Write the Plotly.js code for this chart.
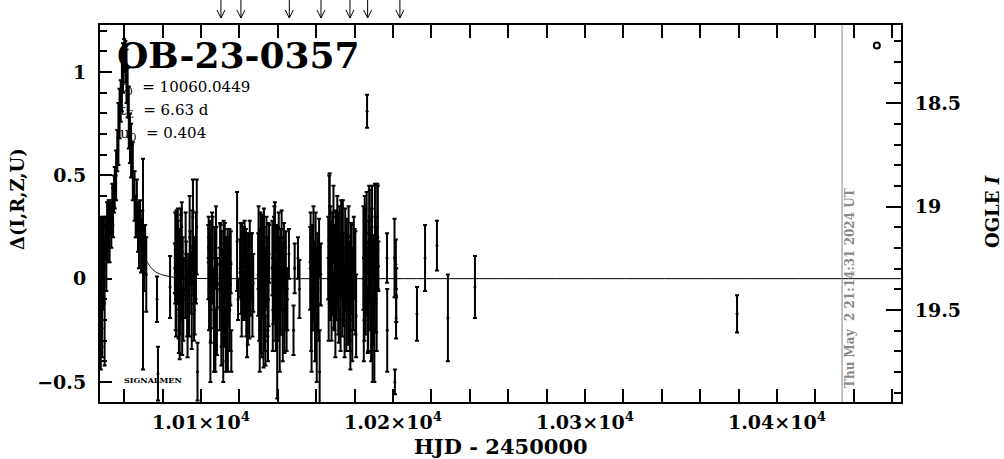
<!DOCTYPE html>
<html><head><meta charset="utf-8">
<script src="https://cdn.plot.ly/plotly-3.0.1.min.js"></script>
<style>html,body{margin:0;padding:0;background:#fff}</style>
</head><body><div id="chart" style="width:1004px;height:459px"></div>
<script>
// Observations: HJD-2450000, Δmag, error
const hjd = [
 10047.6,10047.8,10047.9,10048.2,10048.5,10048.6,10049.0,10049.4,10049.8,10050.3,10050.7,10051.1,10051.5,10051.9,10052.4,10052.8,10053.3,10053.8,10054.2,10054.7,10055.1,
 10055.8,10056.4,10057.0,10057.6,10058.2,10058.8,10059.4,10060.0,10060.6,10061.2,10061.8,10062.4,10063.0,
 10063.6,10064.5,10065.4,10066.0,10066.6,10067.2,10067.7,10068.3,10068.8,10069.4,10069.8,10070.3,10070.9,10071.5,
 10077.1,10077.6,10083.9,
 10086.4,10086.8,10087.2,10087.6,10088.0,10088.3,10088.5,10088.7,10089.0,10089.4,10089.8,10090.2,10090.5,
 10091.8,10092.3,10092.8,10093.3,10093.8,10094.4,10094.9,10095.5,10096.1,10096.7,10097.4,10097.8,10098.2,
 10103.8,10104.2,10104.7,10105.1,10105.6,10106.0,10106.5,10107.0,10107.5,10108.0,10108.5,
 10109.8,10110.2,10110.6,10111.0,10111.4,10111.8,10112.2,10112.6,10113.0,10113.4,10113.8,10114.3,10114.8,10115.3,10115.8,
 10118.8,10119.3,
 10120.4,10120.9,10121.4,10121.9,10122.4,10122.9,10123.4,10123.9,10124.0,10124.4,10124.9,10125.4,10125.9,10126.5,10127.2,
 10129.8,10130.3,10130.8,10131.3,10131.8,10132.3,10132.8,10133.3,10133.8,10134.3,10134.9,10135.5,
 10137.2,10137.7,10138.2,10138.7,10139.2,10139.7,10140.2,10140.7,10141.2,10141.7,10142.3,10142.9,10143.5,10144.2,10145.0,10145.8,
 10148.2,10148.8,10150.5,10151.3,
 10156.9,10157.4,10157.9,10158.4,10158.9,10159.4,10160.0,10160.6,10161.2,10161.8,10162.4,
 10166.3,10166.8,10167.3,10167.8,10168.3,10168.8,10169.3,10169.8,10170.3,10170.8,10171.3,10171.8,10172.4,10173.0,10173.6,10174.2,10174.8,10175.4,10176.0,10176.6,10177.2,10177.8,10178.5,10179.2,10180.0,10180.8,
 10184.6,10185.1,10185.6,10186.1,10186.5,10186.9,10187.4,10187.9,10188.4,10188.9,10189.4,10190.0,10190.6,10191.2,10191.8,10192.4,
 10196.9,10197.0,10200.8,10201.0,10201.5,10201.6,10201.7,
 10212.5,10216.7,10222.9,10228.6,10242.7,10379.2,
 10086.6,10087.0,10087.9,10088.9,10089.6,10090.0,10090.8,
 10092.0,10093.0,10094.1,10095.2,10095.8,10096.4,10097.1,
 10104.0,10104.9,10105.8,10106.8,10107.8,10108.3,
 10110.0,10110.8,10111.6,10112.4,10113.2,10114.0,10114.6,10115.0,10115.5,
 10120.6,10121.2,10122.1,10122.7,10123.6,10124.7,10125.2,10126.2,10126.8,
 10130.0,10130.6,10131.0,10131.6,10132.1,10132.6,10133.1,10133.6,10134.1,10134.6,10135.2,
 10137.4,10138.0,10138.5,10139.0,10139.5,10140.0,10140.5,10141.0,10141.5,10142.0,10142.6,10143.2,10143.8,10144.6,
 10157.1,10157.6,10158.1,10158.6,10159.1,10159.7,10160.3,10160.9,10161.5,
 10166.5,10167.0,10167.5,10168.0,10168.5,10169.0,10169.5,10170.0,10170.5,10171.0,10171.5,10172.1,10172.7,10173.3,10173.9,10174.5,10175.1,10175.7,10176.3,10176.9,10177.5,10178.1,10178.8,10179.6,10180.4,
 10184.8,10185.3,10185.8,10186.3,10187.1,10187.6,10188.1,10188.6,10189.1,10189.7,10190.3,10190.9,10191.5,10192.1
];
const dmag = [
 0.02,-0.20,0.12,-0.08,-0.24,0.15,0.05,0.18,-0.12,0.20,0.10,0.25,0.17,0.28,0.22,0.30,0.26,0.36,0.32,0.41,0.44,
 0.50,0.62,0.70,0.80,0.86,0.95,1.02,1.08,1.05,0.98,0.90,0.78,0.68,
 0.62,0.52,0.40,0.30,0.34,0.25,0.20,0.28,0.16,0.22,0.07,0.10,0.14,0.02,
 -0.10,-0.46,-0.04,
 0.05,-0.10,0.15,-0.02,0.08,-0.15,-0.18,0.12,-0.05,0.20,0.00,-0.20,0.10,
 -0.05,0.06,-0.12,0.02,-0.08,0.10,-0.02,0.15,0.04,-0.15,0.10,0.25,-0.45,
 0.08,-0.05,0.15,-0.15,0.02,0.20,-0.10,0.05,-0.30,0.10,-0.02,
 -0.05,0.10,-0.20,0.02,-0.12,0.14,-0.08,0.05,-0.25,0.00,0.12,-0.10,0.06,-0.03,-0.35,
 0.18,-0.10,
 0.05,-0.05,0.12,0.00,0.15,-0.08,0.08,0.10,-0.25,-0.12,0.03,0.10,-0.06,0.06,-0.02,
 0.02,-0.12,0.10,-0.20,0.06,-0.05,0.18,-0.15,0.00,0.08,-0.25,0.12,
 0.10,-0.08,0.20,-0.10,0.05,-0.30,0.15,0.00,-0.15,0.10,-0.05,0.08,-0.20,0.05,-0.10,0.12,
 -0.25,0.05,0.10,-0.05,
 0.05,-0.10,0.12,-0.05,0.08,-0.20,0.00,0.10,-0.12,-0.45,0.02,
 0.10,0.25,-0.05,0.15,0.02,0.20,-0.10,0.08,0.18,-0.02,0.12,-0.15,0.05,0.22,-0.08,0.10,-0.20,0.00,0.15,-0.10,0.06,-0.30,0.10,-0.05,0.12,-0.18,
 0.10,-0.10,0.20,0.00,0.81,-0.20,0.08,0.25,-0.05,0.12,-0.30,0.05,0.20,-0.12,0.30,0.06,
 0.10,-0.25,0.10,-0.50,0.07,-0.19,-0.08,
 -0.17,0.10,0.16,-0.19,-0.04,-0.17,
 0.10,-0.08,0.18,-0.25,0.06,0.25,-0.10,
 0.12,-0.20,0.20,-0.12,0.30,-0.05,0.05,
 0.20,-0.30,0.10,-0.20,0.15,-0.15,
 0.12,-0.05,-0.30,0.15,-0.10,-0.20,0.10,-0.15,0.08,
 0.15,-0.10,0.08,0.20,-0.08,0.10,-0.15,0.12,-0.08,
 0.15,-0.25,0.20,-0.08,0.12,-0.25,0.05,-0.30,0.15,-0.08,0.02,
 -0.15,0.05,0.25,-0.20,0.12,-0.10,0.20,-0.25,0.00,0.15,-0.15,0.12,-0.05,-0.20,
 0.20,-0.25,0.00,0.15,-0.10,0.10,-0.25,-0.05,0.15,
 -0.10,0.35,0.10,-0.15,0.10,0.30,-0.05,-0.20,0.05,0.25,-0.05,0.15,-0.20,0.05,0.18,-0.08,0.12,-0.15,0.05,0.20,-0.10,0.05,-0.20,0.10,-0.02,
 -0.20,0.15,-0.05,0.22,-0.10,0.30,0.00,-0.20,0.25,-0.10,-0.25,0.10,-0.05,0.20
];
const dmagErr = [
 0.22,0.24,0.18,0.25,0.14,0.14,0.20,0.12,0.30,0.10,0.16,0.12,0.09,0.10,0.14,0.08,0.11,0.10,0.12,0.09,0.10,
 0.12,0.10,0.15,0.12,0.10,0.14,0.12,0.08,0.10,0.13,0.12,0.15,0.12,
 0.13,0.14,0.12,0.10,0.14,0.12,0.15,0.10,0.13,0.11,0.51,0.16,0.12,0.18,
 0.11,0.13,0.15,
 0.12,0.15,0.18,0.10,0.20,0.14,0.18,0.12,0.22,0.14,0.16,0.17,0.10,
 0.14,0.12,0.16,0.10,0.20,0.13,0.15,0.18,0.12,0.12,0.22,0.23,0.14,
 0.18,0.20,0.13,0.16,0.12,0.10,0.14,0.20,0.15,0.15,0.12,
 0.20,0.16,0.22,0.12,0.18,0.14,0.25,0.10,0.20,0.15,0.12,0.13,0.18,0.10,0.10,
 0.24,0.10,
 0.14,0.12,0.15,0.20,0.10,0.12,0.16,0.12,0.13,0.20,0.14,0.18,0.12,0.16,0.14,
 0.20,0.18,0.14,0.16,0.25,0.12,0.16,0.20,0.14,0.12,0.15,0.14,
 0.18,0.14,0.15,0.20,0.12,0.28,0.10,0.20,0.12,0.14,0.22,0.12,0.16,0.18,0.15,0.12,
 0.12,0.12,0.10,0.14,
 0.20,0.25,0.14,0.16,0.10,0.20,0.14,0.12,0.18,0.20,0.15,
 0.20,0.25,0.15,0.13,0.20,0.12,0.14,0.18,0.15,0.12,0.20,0.16,0.14,0.16,0.20,0.12,0.18,0.15,0.14,0.22,0.12,0.14,0.16,0.20,0.12,0.20,
 0.25,0.20,0.14,0.18,0.08,0.16,0.20,0.18,0.14,0.22,0.20,0.16,0.26,0.14,0.16,0.12,
 0.12,0.20,0.19,0.06,0.12,0.10,0.13,
 0.13,0.16,0.12,0.21,0.15,0.09,
 0.22,0.20,0.16,0.14,0.25,0.12,0.20,
 0.20,0.18,0.20,0.22,0.18,0.25,0.15,
 0.10,0.20,0.22,0.25,0.20,0.22,
 0.15,0.28,0.20,0.12,0.30,0.25,0.10,0.20,0.15,
 0.12,0.18,0.15,0.08,0.20,0.12,0.14,0.10,0.20,
 0.20,0.20,0.12,0.30,0.14,0.18,0.20,0.12,0.15,0.20,0.25,
 0.20,0.25,0.12,0.15,0.14,0.20,0.12,0.20,0.15,0.18,0.25,0.15,0.20,0.15,
 0.12,0.20,0.25,0.20,0.15,0.22,0.25,0.20,0.14,
 0.20,0.16,0.25,0.15,0.22,0.15,0.20,0.18,0.25,0.15,0.22,0.20,0.15,0.15,0.20,0.15,0.22,0.20,0.16,0.15,0.25,0.22,0.20,0.20,0.25,
 0.20,0.25,0.22,0.20,0.25,0.15,0.25,0.20,0.20,0.22,0.25,0.20,0.30,0.25
];

// Fitted model curve
const modelT = [10047.4,10048,10049,10050,10051,10052,10053,10054,10055,10056,10057,10058,10059,10060,10061,10062,10063,10064,10065,10066,10067,10068,10069,10070,10071,10072,10074,10076,10078,10080,10085,10090,10100,10120,10200,10465];
const modelD = [0.069,0.078,0.097,0.124,0.154,0.196,0.250,0.321,0.412,0.529,0.671,0.832,0.980,1.047,0.991,0.848,0.685,0.540,0.421,0.328,0.255,0.200,0.157,0.125,0.099,0.080,0.053,0.035,0.025,0.018,0.008,0.004,0.001,0.0,0.0,0.0];

// Symbol marker at top right (OGLE I)
const symT = [10452];
const symMag = [18.22];

// Arrows above the frame
const arrowHjd = [10110.4,10120.8,10146.0,10162.5,10177.6,10186.8,10203.6];

// Axis ticks
const xTickVals = [10100,10200,10300,10400];
const xTickText = ['1.01×10<sup>4</sup>','1.02×10<sup>4</sup>','1.03×10<sup>4</sup>','1.04×10<sup>4</sup>'];
const yTickVals = [-0.5,0,0.5,1];
const magTickVals = [18.5,19,19.5];
const magTickText = ['18.5','19','19.5'];

const timestampHjd = 10433.9;

const SERIF = 'DejaVu Serif, serif';
const tickFont = {family: SERIF, size: 19, color: 'black', weight: 700};

const traces = [
  {
    x: modelT, y: modelD, type: 'scatter', mode: 'lines',
    line: {color: 'black', width: 1, shape: 'spline', smoothing: 0.6},
    hoverinfo: 'skip'
  },
  {
    x: hjd, y: dmag, type: 'scatter', mode: 'markers',
    marker: {color: 'black', size: 3},
    error_y: {type: 'data', array: dmagErr, visible: true, color: 'black', thickness: 2, width: 2}
  },
  {
    x: symT, y: symMag, yaxis: 'y2', type: 'scatter', mode: 'markers',
    marker: {symbol: 'circle-open', size: 6, color: 'black', line: {width: 2, color: 'black'}}
  }
];

const annotations = [
  {text: 'OB-23-0357', xref: 'paper', yref: 'paper', x: 0.019, y: 0.92, xanchor: 'left', yanchor: 'middle', showarrow: false,
   font: {family: SERIF, size: 36, color: 'black', weight: 700}},
  {text: 't<sub>0</sub>  = 10060.0449', xref: 'paper', yref: 'paper', x: 0.023, y: 0.833, xanchor: 'left', yanchor: 'middle', showarrow: false,
   font: {family: SERIF, size: 15, color: 'black'}},
  {text: 't<sub>E</sub>  = 6.63 d', xref: 'paper', yref: 'paper', x: 0.023, y: 0.7745, xanchor: 'left', yanchor: 'middle', showarrow: false,
   font: {family: SERIF, size: 15, color: 'black'}},
  {text: 'u<sub>0</sub>  = 0.404', xref: 'paper', yref: 'paper', x: 0.023, y: 0.7135, xanchor: 'left', yanchor: 'middle', showarrow: false,
   font: {family: SERIF, size: 15, color: 'black'}},
  {text: 'SIGNALMEN', xref: 'paper', yref: 'paper', x: 0.027, y: 0.058, xanchor: 'left', yanchor: 'middle', showarrow: false,
   font: {family: SERIF, size: 8, color: 'black', weight: 700}},
  {text: 'Thu May\u00a0\u00a02 21:14:31 2024 UT', xref: 'paper', yref: 'paper', x: 0.9363, y: 0.3024, xanchor: 'center', yanchor: 'middle',
   textangle: -90, showarrow: false, font: {family: SERIF, size: 12, color: '#888888', weight: 700}},
  {text: 'Δ(I,R,Z,U)', xref: 'paper', yref: 'paper', x: -0.1024, y: 0.5385, xanchor: 'center', yanchor: 'middle',
   textangle: -90, showarrow: false, font: {family: SERIF, size: 18, color: 'black', weight: 700}},
  {text: 'OGLE <i>I</i>', xref: 'paper', yref: 'paper', x: 1.1149, y: 0.504, xanchor: 'center', yanchor: 'middle',
   textangle: -90, showarrow: false, font: {family: SERIF, size: 18, color: 'black', weight: 700}},
  {text: 'HJD - 2450000', xref: 'paper', yref: 'paper', x: 0.5, y: -0.118, xanchor: 'center', yanchor: 'middle', showarrow: false,
   font: {family: SERIF, size: 21, color: 'black', weight: 700}}
];

// Arrows drawn as shapes anchored at each HJD (pixel offsets above the frame)
const shapes = [
  {type: 'line', xref: 'x', yref: 'paper', x0: timestampHjd, x1: timestampHjd, y0: 0, y1: 1,
   line: {color: '#888888', width: 1}}
];
const arrowLine = {color: 'black', width: 1};
arrowHjd.forEach(t => {
  const base = {type: 'line', xref: 'x', yref: 'paper', xsizemode: 'pixel', ysizemode: 'pixel', xanchor: t, yanchor: 1, line: arrowLine};
  shapes.push(Object.assign({}, base, {x0: 0, x1: 0, y0: 7, y1: 25}));
  shapes.push(Object.assign({}, base, {x0: -4, x1: 0, y0: 15, y1: 7}));
  shapes.push(Object.assign({}, base, {x0: 4, x1: 0, y0: 15, y1: 7}));
});

const axisLine = {showline: true, linewidth: 2, linecolor: 'black', showgrid: false, zeroline: false, ticks: 'inside', tickwidth: 2, tickcolor: 'black', tickfont: tickFont};

const layout = {
  width: 1004, height: 459,
  margin: {l: 100, r: 103, t: 25, b: 57, pad: 0},
  paper_bgcolor: 'white', plot_bgcolor: 'white',
  showlegend: false,
  xaxis: Object.assign({}, axisLine, {
    range: [10047.4, 10464.6], tickmode: 'array', tickvals: xTickVals, ticktext: xTickText,
    ticklen: 13, mirror: 'allticks', ticklabelstandoff: 2,
    minor: {dtick: 20, tick0: 10000, ticks: 'inside', ticklen: 5, tickwidth: 2, tickcolor: 'black', showgrid: false}
  }),
  yaxis: Object.assign({}, axisLine, {
    range: [-0.597, 1.228], tickmode: 'array', tickvals: yTickVals,
    ticklen: 12, mirror: false, ticklabelstandoff: 8,
    minor: {dtick: 0.1, tick0: 0, ticks: 'inside', ticklen: 7, tickwidth: 2, tickcolor: 'black', showgrid: false}
  }),
  yaxis2: Object.assign({}, axisLine, {
    overlaying: 'y', side: 'right', range: [19.945, 18.121], tickmode: 'array', tickvals: magTickVals, ticktext: magTickText,
    ticklen: 15, ticklabelstandoff: 8,
    minor: {dtick: 0.1, tick0: 18, ticks: 'inside', ticklen: 7, tickwidth: 2, tickcolor: 'black', showgrid: false}
  }),
  shapes: shapes,
  annotations: annotations
};

Plotly.newPlot('chart', traces, layout, {staticPlot: true, displayModeBar: false});
</script></body></html>
